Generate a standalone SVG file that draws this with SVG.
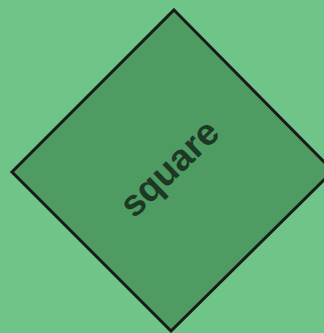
<svg xmlns="http://www.w3.org/2000/svg" width="324" height="333" viewBox="0 0 324 333">
<style>
.bg{fill:#6fc487}
.shape{fill:#4f9c62;stroke:#1a1a1a;stroke-width:3;stroke-linejoin:miter}
.label{font-family:"Liberation Sans",Arial,sans-serif;font-weight:bold;font-size:37px;fill:#1e3826;text-anchor:middle}
</style>
<rect class="bg" x="0" y="0" width="324" height="333"/>
<g id="square">
<polygon class="shape" points="174,10 333,171 171,331 12,172"/>
<text class="label" x="171" y="180" transform="rotate(-44 171 170)">square</text>
</g>
</svg>
